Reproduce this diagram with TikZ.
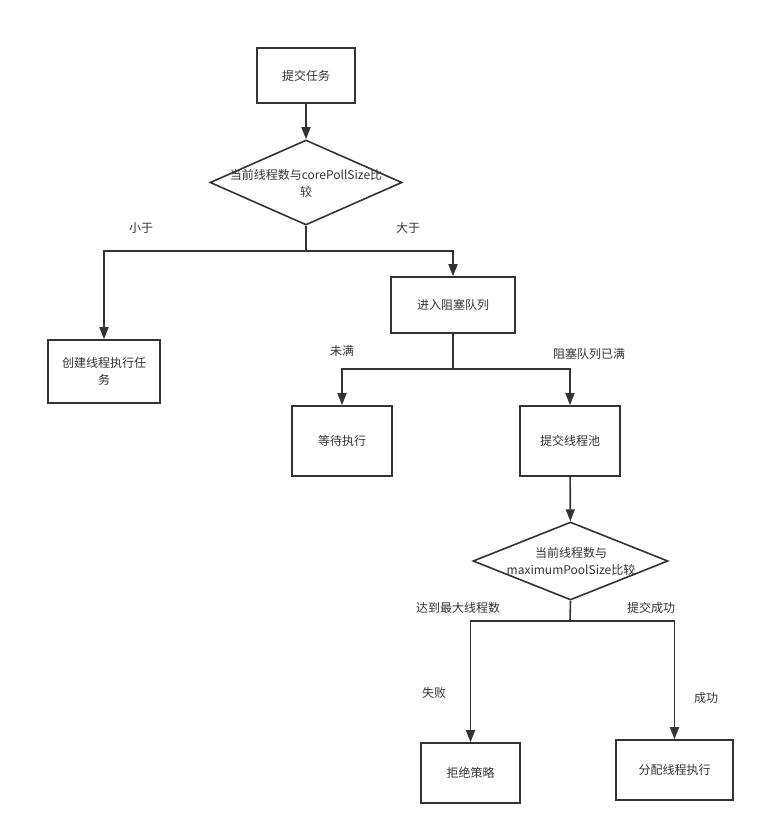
\documentclass[tikz,border=0pt]{standalone}
\usepackage{fontspec}
\setmainfont{Noto Sans CJK SC}
\usepackage{xcolor}
\usetikzlibrary{arrows.meta,positioning,shapes.geometric}

\definecolor{ink}{HTML}{333333}

\begin{document}
\begin{tikzpicture}[x=1pt, y=-1pt,
  every node/.style={font=\fontsize{12}{17}\selectfont, text=ink},
  stepbox/.style={draw=ink, line width=1.6pt, rectangle, inner sep=0pt},
  decision/.style={draw=ink, line width=1.6pt, diamond, inner sep=0pt},
  flow/.style={draw=ink, line width=1.6pt, -{Triangle[length=12pt,width=9pt]}},
  lbl/.style={inner sep=0pt}]
  \useasboundingbox (0,0) rectangle (764,835);

  \node[stepbox, minimum width=98pt, minimum height=55pt] (submit) at (306,75.5) {提交任务};
  \node[decision, minimum width=192pt, minimum height=85pt] (cmpcore) at (306,182.5) {};
  \node[lbl, align=center] (cmpcoretxt) at (306,183) {当前线程数与corePollSize比\\较};
  \node[stepbox, minimum width=112pt, minimum height=63pt, align=center] (create) at (104,371.5) {创建线程执行任\\务};
  \node[stepbox, minimum width=124pt, minimum height=56pt] (queue) at (453,305) {进入阻塞队列};
  \node[stepbox, minimum width=100pt, minimum height=70pt] (wait) at (342,441) {等待执行};
  \node[stepbox, minimum width=100pt, minimum height=70pt] (pool) at (570,441) {提交线程池};
  \node[decision, minimum width=195pt, minimum height=78pt] (cmpmax) at (570.5,561) {};
  \node[lbl, align=center] (cmpmaxtxt) at (571,561) {当前线程数与\\maximumPoolSize比较};
  \node[stepbox, minimum width=99pt, minimum height=60pt] (reject) at (470.5,773) {拒绝策略};
  \node[stepbox, minimum width=117pt, minimum height=60pt] (assign) at (674.5,770) {分配线程执行};

  \coordinate (j1) at (306,251);
  \coordinate (j2) at (453,369);
  \coordinate (j3) at (570,621);

  \draw[flow] (submit) -- (cmpcore);
  \draw[draw=ink, line width=1.6pt] (cmpcore.south) -- (j1);
  \draw[flow] (j1) -| (create.north);
  \draw[flow] (j1) -| (queue.north);
  \draw[draw=ink, line width=1.6pt] (queue.south) -- (j2);
  \draw[flow] (j2) -| (wait.north);
  \draw[flow] (j2) -| (pool.north);
  \draw[flow] (pool) -- (cmpmax);
  \draw[draw=ink, line width=1.6pt] (cmpmax.south) -- (j3);
  \draw[flow] (j3) -| (reject.north);
  \draw[flow] (j3) -| (assign.north);

  \node[lbl] (less) at (141,228) {小于};
  \node[lbl] (more) at (408,228) {大于};
  \node[lbl] (notfull) at (342,351) {未满};
  \node[lbl] (full) at (589,354) {阻塞队列已满};
  \node[lbl] (maxed) at (458,608) {达到最大线程数};
  \node[lbl] (ok) at (651,608) {提交成功};
  \node[lbl] (fail) at (434,693) {失败};
  \node[lbl] (success) at (706,698) {成功};
\end{tikzpicture}
\end{document}
